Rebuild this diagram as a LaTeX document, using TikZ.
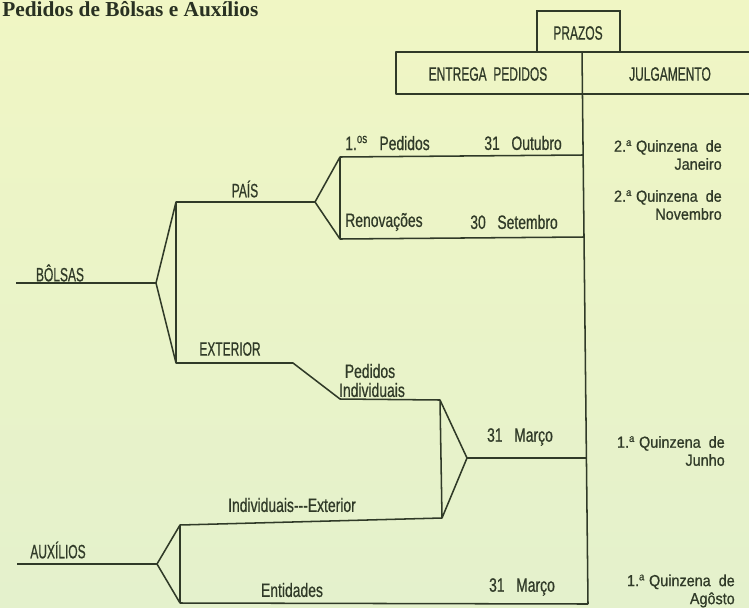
\documentclass[tikz,border=0pt]{standalone}
\usepackage{fontspec}
\newfontfamily\cond{Liberation Sans}[FakeStretch=0.62,FakeBold=0.6]
\newfontfamily\condl{Liberation Sans}[FakeStretch=0.72,FakeBold=0.6]
\newfontfamily\qfont{Liberation Sans}[FakeStretch=0.9,FakeBold=0.8]
\newfontfamily\ttl{Liberation Serif}
\definecolor{papertop}{RGB}{240,246,196}
\definecolor{paperbot}{RGB}{228,241,204}
\definecolor{ink}{RGB}{48,58,40}
\newcommand{\gap}{\hspace{0.6em}}
\tikzset{
  lbl/.style={font=\cond\fontsize{14.5}{15}\selectfont, text=ink, inner sep=0pt},
  lbll/.style={font=\condl\fontsize{14.5}{15}\selectfont, text=ink, inner sep=0pt},
  qlbl/.style={font=\qfont\fontsize{12}{13.5}\selectfont, text=ink, inner sep=0pt, align=right, anchor=east},
  ln/.style={draw=ink, line width=1.15pt, line join=round},
  box/.style={draw=ink, line width=1.15pt}
}
\begin{document}
\begin{tikzpicture}[x=0.75pt,y=-0.75pt]
\useasboundingbox (0,0) rectangle (749,607);
\shade[top color=papertop, bottom color=paperbot] (0,0) rectangle (749,607);
% title
\node[anchor=base west, font=\ttl\bfseries\fontsize{16}{17}\selectfont, text=ink!85!black, inner sep=0pt] (title) at (2,16) {Pedidos de Bôlsas e Auxílios};
% header
\coordinate (pz1) at (537,11); \coordinate (pz2) at (620,52);
\draw[box] (pz1) rectangle (pz2);
\node[lbl] (prazos) at (578,33) {PRAZOS};
\coordinate (hTL) at (396,52); \coordinate (hTR) at (749,52);
\coordinate (hBL) at (396,94); \coordinate (hBR) at (749,94);
\draw[ln] (hTR) -- (hTL) -- (hBL) -- (hBR);
\coordinate (mTop) at (582,52); \coordinate (mBot) at (588,604);
\draw[ln] (mTop) -- (mBot);
\node[lbl] (entrega) at (488,74) {ENTREGA\ \ PEDIDOS};
\node[lbl] (julg) at (670,74) {JULGAMENTO};
% Bolsas
\coordinate (bA) at (16,283); \coordinate (bV) at (156,283);
\coordinate (bUp) at (176,202); \coordinate (bDn) at (176,363);
\draw[ln] (bA) -- (bV);
\draw[ln] (bUp) -- (bV) -- (bDn) -- cycle;
\node[lbl] (bolsas) at (60,273) {BÔLSAS};
% Pais
\coordinate (pV) at (315,202);
\coordinate (pUp) at (340,157); \coordinate (pDn) at (340,239);
\draw[ln] (bUp) -- (pV);
\draw[ln] (pUp) -- (pV) -- (pDn) -- cycle;
\node[lbl] (pais) at (245,189) {PAÍS};
\coordinate (m1) at (583,155); \coordinate (m2) at (584,237);
\draw[ln] (pUp) -- (m1);
\draw[ln] (pDn) -- (m2);
\node[lbll, anchor=west] (p1) at (345,143) {1.\textsuperscript{os}\gap Pedidos};
\node[lbll, anchor=east] (d1) at (562,143) {31\gap Outubro};
\node[lbll, anchor=west] (ren) at (345,222) {Renovações};
\node[lbll, anchor=east] (d2) at (558,222) {30\gap Setembro};
% Exterior
\coordinate (e1) at (293,363); \coordinate (e2) at (340,399); \coordinate (e3) at (440,400);
\draw[ln] (bDn) -- (e1) -- (e2) -- (e3);
\node[lbl] (ext) at (230,349) {EXTERIOR};
\node[lbll] (ped) at (370,371) {Pedidos};
\node[lbll] (ind) at (372,390) {Individuais};
% lower right fork
\coordinate (fV) at (467,458); \coordinate (fDn) at (442,518);
\draw[ln] (e3) -- (fV) -- (fDn) -- cycle;
\coordinate (m3) at (586,458);
\draw[ln] (fV) -- (m3);
\node[lbll] (d3) at (520,437) {31\gap Março};
% Auxilios
\coordinate (aA) at (17,564); \coordinate (aV) at (157,564);
\coordinate (aUp) at (180,525); \coordinate (aDn) at (180,603);
\draw[ln] (aA) -- (aV);
\draw[ln] (aUp) -- (aV) -- (aDn) -- cycle;
\node[lbl] (aux) at (58,550) {AUXÍLIOS};
\draw[ln] (aUp) -- (fDn);
\node[lbll] (indext) at (292,505) {Individuais---Exterior};
\coordinate (m4) at (588,604);
\draw[ln] (aDn) -- (m4);
\node[lbll] (ent) at (292,590) {Entidades};
\node[lbll] (d4) at (522,587) {31\gap Março};
% julgamento column
\node[qlbl] (q1) at (722,155) {2.\textsuperscript{a}\ Quinzena\ \ de\\Janeiro};
\node[qlbl] (q2) at (722,205) {2.\textsuperscript{a}\ Quinzena\ \ de\\Novembro};
\node[qlbl] (q3) at (725,451) {1.\textsuperscript{a}\ Quinzena\ \ de\\Junho};
\node[qlbl] (q4) at (735,591) {1.\textsuperscript{a}\ Quinzena\ \ de\\Agôsto};
\end{tikzpicture}
\end{document}
